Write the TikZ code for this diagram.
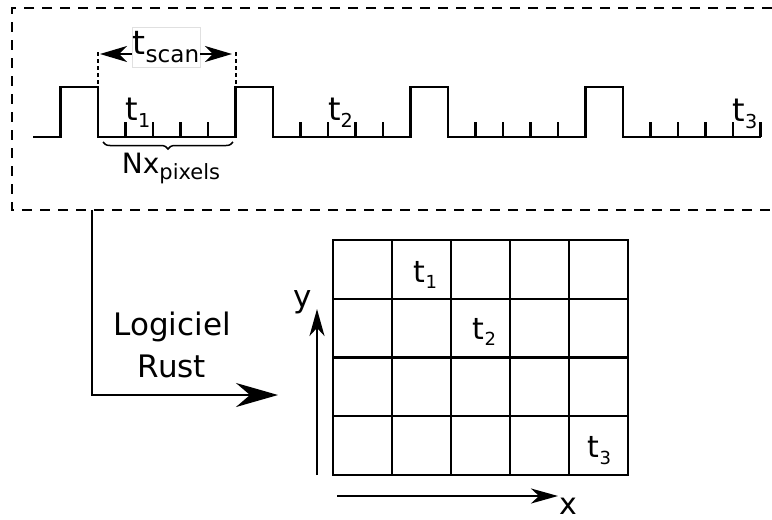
\documentclass[tikz,border=0pt]{standalone}
\usepackage{fontspec}
\setmainfont{DejaVu Sans}
\usetikzlibrary{arrows.meta,positioning,decorations.pathreplacing}
\newcommand{\idx}[3][0.6]{#2\raisebox{-0.22em}{\scalebox{#1}{#3}}}

\begin{document}
\begin{tikzpicture}[
  x=1pt,y=-1pt,
  font=\fontsize{28}{34}\selectfont,
  frame/.style={line width=2pt,dash pattern=on 10pt off 8pt},
  sig/.style={line width=2.2pt},
  guide/.style={line width=1.3pt,dash pattern=on 4pt off 3pt},
  span/.style={line width=1.4pt,-{Stealth[length=27pt,width=16pt,inset=8pt]}},
  tlab/.style={inner sep=0pt,anchor=base,font=\fontsize{32}{38}\selectfont},
  cell/.style={draw,line width=2.2pt,minimum width=59pt,minimum height=58.75pt,inner sep=0pt},
  ax/.style={line width=2.2pt,-{Stealth[length=27pt,width=15pt,inset=8pt]}},
  axlab/.style={inner sep=0pt,font=\fontsize{31}{36}\selectfont},
  flow/.style={line width=2.6pt,-{Stealth[length=42pt,width=24pt,inset=14pt]}}
]
\useasboundingbox (0,0) rectangle (772,520);
% acquisition frame
\draw[frame] (772,8) -- (12,8) -- (12,210) -- (772,210);
% scan signal with pixel ticks
\draw[sig] (33,137) foreach \k in {0,...,3}{ -| (60.5+175*\k,87) -| (98+175*\k,137) } -- (760.5,137);
\foreach \k in {0,...,3}
  \foreach \j in {1,...,4}
    \draw[sig] (98+175*\k+27.5*\j,137) -- ++(0,-15);
\draw[sig] (760.5,137) -- ++(0,-15);
\node[tlab] (t1) at (138,120) {\idx{t}{1}};
\node[tlab] (t2) at (340.5,120) {\idx{t}{2}};
\node[tlab] (t3) at (745,121) {\idx{t}{3}};
% scan duration
\draw[guide] (98,52) -- (98,87);
\draw[guide] (236,52) -- (236,87);
\coordinate (sl) at (100,54);
\coordinate (sr) at (232,54);
\node[draw=black!12,fill=white,line width=0.8pt,minimum width=68pt,minimum height=40pt,inner sep=0pt,font=\fontsize{33}{38}\selectfont] (tscan) at (166,47) {\idx[0.7]{t}{scan}};
\draw[span] (tscan.west |- sl) -- (sl);
\draw[span] (tscan.east |- sr) -- (sr);
\draw[sig,line width=1.5pt,decorate,decoration={brace,mirror,amplitude=7pt}] (103,142) -- (233,142);
\node[inner sep=0pt,anchor=base,font=\fontsize{28}{32}\selectfont] (npix) at (171,173) {\idx[0.75]{Nx}{pixels}};
% software step
\coordinate (out) at (92,210);
\coordinate (in) at (278,395);
\draw[flow] (out) |- (in);
\node[align=center,font=\fontsize{31}{42}\selectfont] (soft) at (172,345) {Logiciel\\Rust};
% image grid
\foreach \c in {1,...,5}
  \foreach \r in {1,...,4}
    \node[cell] (c\c\r) at (303.5+59*\c,210.625+58.75*\r) {};
\node[tlab,font=\fontsize{30}{36}\selectfont] (g1) at ([shift={(4,13)}]c21) {\idx{t}{1}};
\node[tlab,font=\fontsize{30}{36}\selectfont] (g2) at ([shift={(4,11)}]c32) {\idx{t}{2}};
\node[tlab,font=\fontsize{30}{36}\selectfont] (g3) at ([shift={(1,12)}]c54) {\idx{t}{3}};
% axes
\coordinate (yb) at (317,475);
\coordinate (yt) at (317,309);
\draw[ax] (yb) -- (yt);
\node[axlab] (ylab) at (302.5,302.5) {y};
\coordinate (xl) at (337,496);
\coordinate (xr) at (558,496);
\draw[ax] (xl) -- (xr);
\node[axlab,font=\fontsize{30}{36}\selectfont] (xlab) at (568,506) {x};
\end{tikzpicture}
\end{document}
